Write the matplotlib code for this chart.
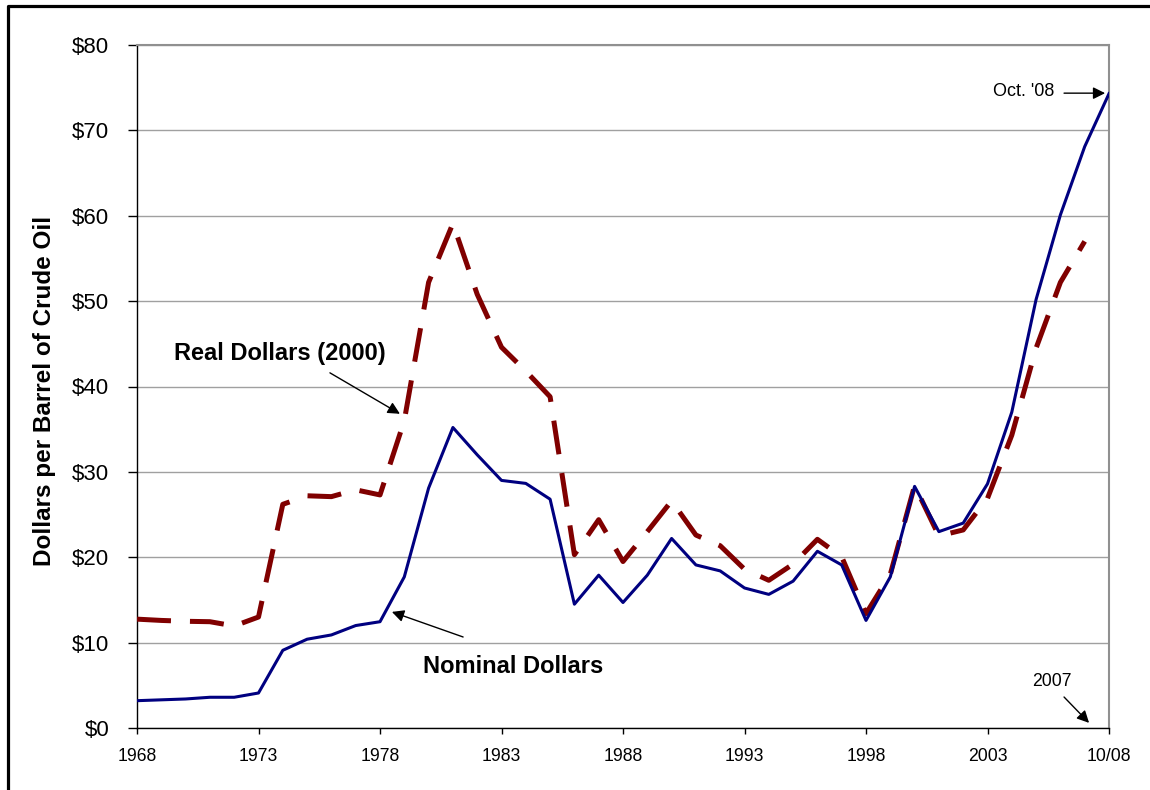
import numpy as np
import matplotlib.pyplot as plt
from matplotlib.lines import Line2D
from matplotlib.ticker import FuncFormatter

plt.rcParams['font.family'] = ['Liberation Sans', 'DejaVu Sans']

# categories: one per year, last one is October 2008
labels = [str(y) for y in range(1968, 2008)] + ["10/08"]

# nominal crude oil price, $/bbl (1968 .. 2007, Oct '08)
nominal = [3.2, 3.3, 3.4, 3.6, 3.6, 4.1, 9.1, 10.4, 10.9, 12.0,
           12.45, 17.7, 28.1, 35.2, 32.0, 29.0, 28.65, 26.8, 14.5, 17.9,
           14.7, 17.9, 22.2, 19.1, 18.4, 16.4, 15.65, 17.2, 20.7, 19.1,
           12.6, 17.7, 28.3, 23.0, 24.0, 28.6, 37.0, 50.2, 60.1, 68.1,
           74.3]

# real price in 2000 dollars (1968 .. 2007)
real = [12.75, 12.6, 12.5, 12.45, 11.95, 13.0, 26.2, 27.2, 27.1, 27.9,
        27.3, 36.0, 52.2, 59.1, 50.8, 44.6, 41.8, 38.8, 20.3, 24.4,
        19.5, 23.0, 26.6, 22.6, 21.35, 18.6, 17.3, 19.2, 22.1, 20.05,
        13.4, 18.0, 28.4, 22.5, 23.2, 26.9, 34.3, 44.5, 52.2, 57.0]

yticks = list(range(0, 90, 10))

W, H = 1150, 790
fig = plt.figure(figsize=(W / 100, H / 100), dpi=100)
ax = fig.add_axes([137 / W, 1 - 728 / H, (1109 - 137) / W, (728 - 45) / H])

x_nom = np.arange(len(nominal))
x_real = np.arange(len(real))
ax.plot(x_real, real, color='#800000', lw=3.6, linestyle=(0, (6.8, 3.8)),
        solid_joinstyle='miter', zorder=3)
ax.plot(x_nom, nominal, color='#000080', lw=2.2, zorder=4)

ax.set_xlim(0, len(labels) - 1)
ax.set_ylim(0, 80)
ax.set_xticks(np.arange(0, len(labels), 5))
ax.set_xticklabels(labels[::5])
ax.set_yticks(yticks)
ax.yaxis.set_major_formatter(FuncFormatter(lambda v, p: f"${v:.0f}"))
ax.tick_params(axis='y', direction='out', length=6.5, width=1, pad=13.5,
               labelsize=16, color='black')
ax.tick_params(axis='x', direction='out', length=4.3, width=1, pad=10,
               labelsize=12.7, color='black')
ax.grid(axis='y', color='#a0a0a0', lw=1)
ax.set_axisbelow(True)
for s in ('top', 'right'):
    ax.spines[s].set_color('#909090')
    ax.spines[s].set_linewidth(1.5)
for s in ('left', 'bottom'):
    ax.spines[s].set_color('black')
    ax.spines[s].set_linewidth(1)

fig.text(45 / W, 1 - 391 / H, "Dollars per Barrel of Crude Oil", rotation=90,
         ha='center', va='center', fontsize=17.5, fontweight='bold')

arrow = dict(arrowstyle='-|>', color='black', lw=1, mutation_scale=18,
             shrinkA=0, shrinkB=0)
ax.text(5.88, 43.9, "Real Dollars (2000)", ha='center', va='center',
        fontsize=17, fontweight='bold')
ax.annotate('', xy=(10.82, 36.8), xytext=(7.94, 41.6), arrowprops=arrow)
ax.text(15.47, 7.26, "Nominal Dollars", ha='center', va='center',
        fontsize=17, fontweight='bold')
ax.annotate('', xy=(10.49, 13.6), xytext=(13.42, 10.66), arrowprops=arrow)
ax.text(36.5, 74.5, "Oct. '08", ha='center', va='center', fontsize=13)
ax.annotate('', xy=(39.84, 74.36), xytext=(38.15, 74.36), arrowprops=arrow,
            annotation_clip=False)
ax.text(37.65, 5.4, "2007", ha='center', va='center', fontsize=12.7)
ax.annotate('', xy=(39.18, 0.6), xytext=(38.15, 3.63), arrowprops=arrow)

# outer frame (only left and top edges fall inside the image)
fig.add_artist(Line2D([7.5 / W, 7.5 / W, 1], [0, 1 - 5.5 / H, 1 - 5.5 / H],
                      transform=fig.transFigure, color='black', lw=2.3))

fig.savefig("out.png", dpi=100)
